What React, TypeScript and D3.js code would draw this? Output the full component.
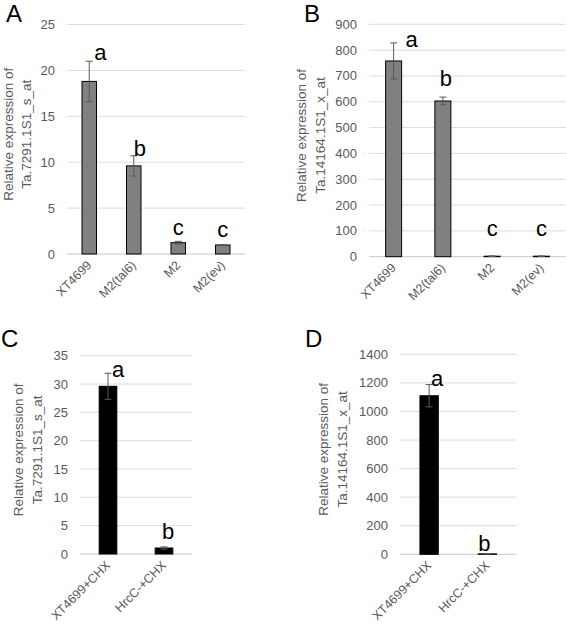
import React from "react";
import * as d3 from "d3";

const catsAB = ["XT4699", "M2(tal6)", "M2", "M2(ev)"];
const catsCD = ["XT4699+CHX", "HrcC-+CHX"];

const valuesA = [18.8, 9.6, 1.23, 0.98];
const errorsA = [2.2, 1.1, 0.15, 0.04];
const lettersA = ["a", "b", "c", "c"];
const ticksA = [0, 5, 10, 15, 20, 25];

const valuesB = [758, 603, 2, 2];
const errorsB = [70, 15, 1, 1];
const lettersB = ["a", "b", "c", "c"];
const ticksB = [0, 100, 200, 300, 400, 500, 600, 700, 800, 900];

const valuesC = [29.6, 1.06];
const errorsC = [2.3, 0.2];
const lettersC = ["a", "b"];
const ticksC = [0, 5, 10, 15, 20, 25, 30, 35];

const valuesD = [1110, 3];
const errorsD = [78, 1];
const lettersD = ["a", "b"];
const ticksD = [0, 200, 400, 600, 800, 1000, 1200, 1400];

const FONT = "'Liberation Sans', Arial, Helvetica, sans-serif";
const GRAY = "#595959";

type PanelProps = {
  label: string;
  labelX: number;
  labelY: number;
  cats: string[];
  values: number[];
  errors: number[];
  letters: string[];
  ticks: number[];
  x0: number;
  x1: number;
  yTop: number;
  yBottom: number;
  titleLines: string[];
  titleX: number;
  fill: string;
  barFrac: number;
  letterDx: number[];
  letterDy: number[];
};

function Panel(p: PanelProps) {
  const max = p.ticks[p.ticks.length - 1];
  const x = d3.scaleBand<string>().domain(p.cats).range([p.x0, p.x1]).paddingInner(0).paddingOuter(0);
  const y = d3.scaleLinear().domain([0, max]).range([p.yBottom, p.yTop]);
  const bw = x.bandwidth() * p.barFrac;
  const midY = (p.yTop + p.yBottom) / 2;
  return (
    <g>
      <text x={p.labelX} y={p.labelY} fontSize={24} fontFamily={FONT} fill="#000">{p.label}</text>
      {p.ticks.map((t) => (
        <g key={t}>
          <line x1={p.x0} x2={p.x1} y1={y(t)} y2={y(t)} stroke={t === 0 ? "#c8c8c8" : "#dcdcdc"} strokeWidth={1} />
          <text x={p.x0 - 12} y={y(t)} dy="0.35em" textAnchor="end" fontSize={13} fontFamily={FONT} fill={GRAY}>{t}</text>
        </g>
      ))}
      {p.cats.map((c, i) => {
        const cx = (x(c) as number) + x.bandwidth() / 2;
        const v = p.values[i];
        const e = p.errors[i];
        return (
          <g key={c}>
            <rect x={cx - bw / 2} y={y(v)} width={bw} height={p.yBottom - y(v)} fill={p.fill} stroke="#000" strokeWidth={1} />
            <line x1={cx} x2={cx} y1={y(v + e)} y2={y(Math.max(0, v - e))} stroke={GRAY} strokeWidth={1} />
            <line x1={cx - 3.5} x2={cx + 3.5} y1={y(v + e)} y2={y(v + e)} stroke={GRAY} strokeWidth={1} />
            <line x1={cx - 3.5} x2={cx + 3.5} y1={y(Math.max(0, v - e))} y2={y(Math.max(0, v - e))} stroke={GRAY} strokeWidth={1} />
            <text x={cx + p.letterDx[i]} y={y(v + e) + p.letterDy[i]} textAnchor="middle" fontSize={22} fontFamily={FONT} fill="#000">{p.letters[i]}</text>
            <text transform={`translate(${cx + 3},${p.yBottom + 12}) rotate(-45)`} textAnchor="end" fontSize={12.5} fontFamily={FONT} fill={GRAY}>{c}</text>
          </g>
        );
      })}
      {p.titleLines.map((line, k) => (
        <text key={k} transform={`translate(${p.titleX + k * 18.5},${midY - 5}) rotate(-90)`} textAnchor="middle" fontSize={13.5} fontFamily={FONT} fill={GRAY}>{line}</text>
      ))}
    </g>
  );
}

export default function App() {
  return (
    <svg width={567} height={624} style={{ position: "absolute", left: 0, top: 0, background: "#fff" }}>
      <rect width={567} height={624} fill="#fff" />
      <Panel label="A" labelX={6} labelY={22} cats={catsAB} values={valuesA} errors={errorsA} letters={lettersA} ticks={ticksA}
        x0={67} x1={245} yTop={24.5} yBottom={254} titleLines={["Relative expression of", "Ta.7291.1S1_s_at"]} titleX={12.5}
        fill="#808080" barFrac={0.326} letterDx={[11, 6, 0, 0]} letterDy={[-1, 0, -6, -8]} />
      <Panel label="B" labelX={304} labelY={22} cats={catsAB} values={valuesB} errors={errorsB} letters={lettersB} ticks={ticksB}
        x0={369} x1={566} yTop={24.3} yBottom={256.7} titleLines={["Relative expression of", "Ta.14164.1S1_x_at"]} titleX={306}
        fill="#808080" barFrac={0.325} letterDx={[18, 3, 0, 0]} letterDy={[4, -11, -20, -20]} />
      <Panel label="C" labelX={1} labelY={347} cats={catsCD} values={valuesC} errors={errorsC} letters={lettersC} ticks={ticksC}
        x0={80} x1={192} yTop={355.7} yBottom={554} titleLines={["Relative expression of", "Ta.7291.1S1_s_at"]} titleX={23}
        fill="#000" barFrac={0.315} letterDx={[10, 4, 0]} letterDy={[4, -8]} />
      <Panel label="D" labelX={305} labelY={347} cats={catsCD} values={valuesD} errors={errorsD} letters={lettersD} ticks={ticksD}
        x0={400} x1={516.5} yTop={354.3} yBottom={554.3} titleLines={["Relative expression of", "Ta.14164.1S1_x_at"]} titleX={328}
        fill="#000" barFrac={0.315} letterDx={[8, -3]} letterDy={[1, -3]} />
    </svg>
  );
}
